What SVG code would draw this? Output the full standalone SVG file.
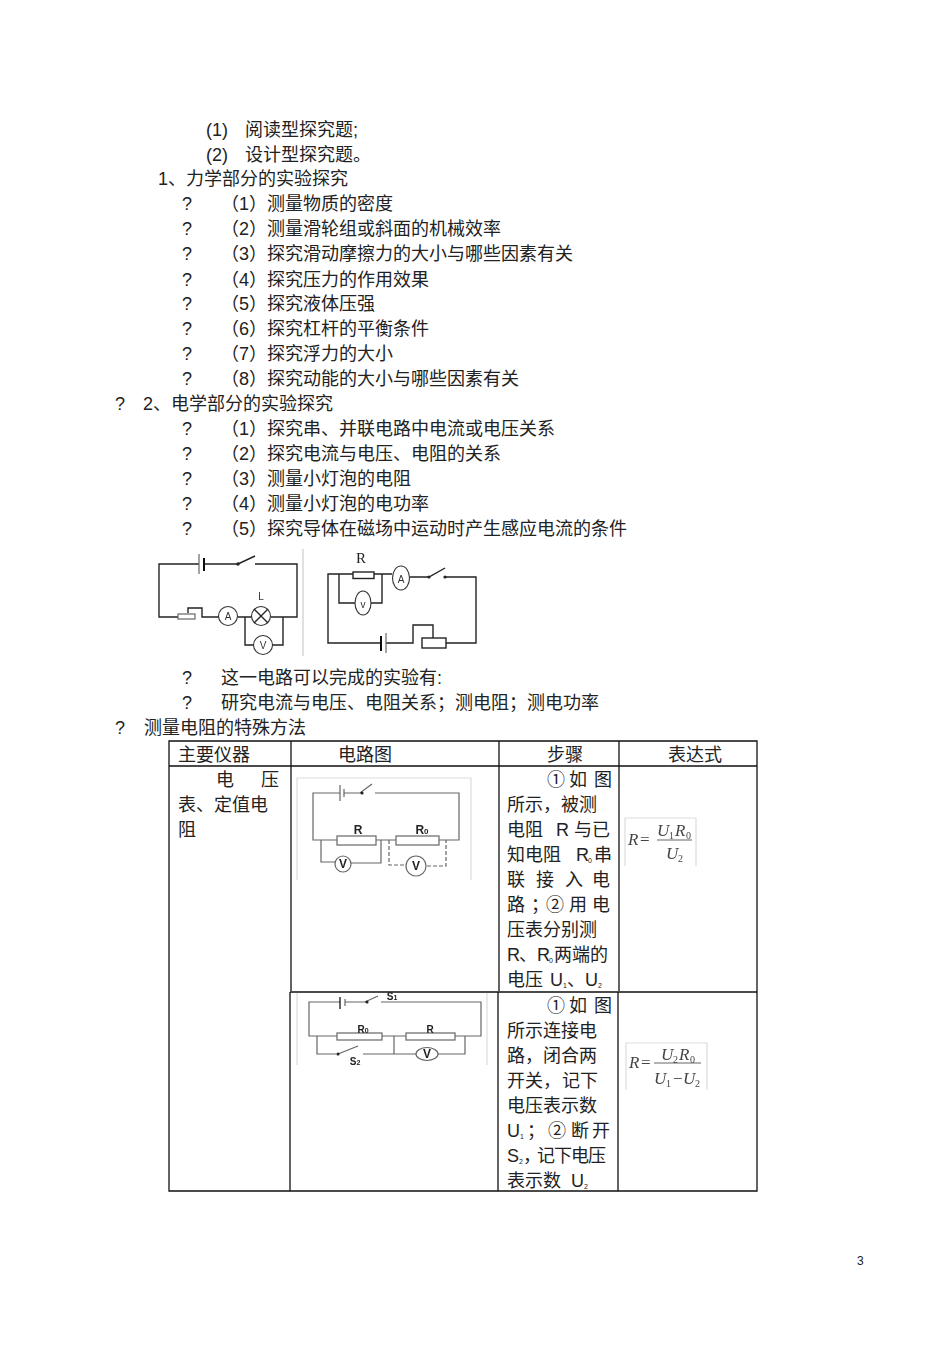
<svg xmlns="http://www.w3.org/2000/svg" width="950" height="1345" viewBox="0 0 950 1345">
<style>
text{font-family:"Liberation Sans","Noto Sans CJK SC",sans-serif;font-size:18px;fill:#222}
.t{fill:none;stroke:#111;stroke-width:1.3}
.w{fill:none;stroke:#222;stroke-width:1.4}
.g{fill:none;stroke:#666;stroke-width:1.2}
.d{stroke-dasharray:4 2}
.b{stroke:#111;stroke-width:2;fill:none}
.f{fill:none;stroke:#ddd;stroke-width:1.2}
.c{fill:#fff;stroke:#333;stroke-width:1.1}
.cg{fill:#fff;stroke:#666;stroke-width:1.2}
.dot{fill:#222}
.s{font-size:7px}
.m{font-family:"Liberation Sans",sans-serif;font-size:10px;text-anchor:middle;fill:#333}
.l{font-family:"Liberation Sans",sans-serif;font-size:12px;font-weight:bold;text-anchor:middle;fill:#222}
.ls{font-family:"Liberation Sans",sans-serif;font-size:10px;font-weight:bold;text-anchor:middle;fill:#222}
.e{font-family:"Liberation Serif",serif;font-style:italic;font-size:17px;fill:#444}
.e2{font-family:"Liberation Serif",serif;font-size:10px;fill:#444}
</style>
<defs><filter id="soft" x="-5%" y="-5%" width="110%" height="110%"><feGaussianBlur stdDeviation="0.35"/></filter></defs>
<rect width="950" height="1345" fill="#fff"/>

<g id="list">
<text x="206" y="136">(1)</text><text x="245" y="136">阅读型探究题;</text>
<text x="206" y="161">(2)</text><text x="245" y="161">设计型探究题。</text>
<text x="158" y="185">1、力学部分的实验探究</text>
<text x="182" y="210">?</text><text x="221" y="210">（1）测量物质的密度</text>
<text x="182" y="235">?</text><text x="221" y="235">（2）测量滑轮组或斜面的机械效率</text>
<text x="182" y="260">?</text><text x="221" y="260">（3）探究滑动摩擦力的大小与哪些因素有关</text>
<text x="182" y="286">?</text><text x="221" y="286">（4）探究压力的作用效果</text>
<text x="182" y="310">?</text><text x="221" y="310">（5）探究液体压强</text>
<text x="182" y="335">?</text><text x="221" y="335">（6）探究杠杆的平衡条件</text>
<text x="182" y="360">?</text><text x="221" y="360">（7）探究浮力的大小</text>
<text x="182" y="385">?</text><text x="221" y="385">（8）探究动能的大小与哪些因素有关</text>
<text x="115" y="410">?</text><text x="143" y="410">2、电学部分的实验探究</text>
<text x="182" y="435">?</text><text x="221" y="435">（1）探究串、并联电路中电流或电压关系</text>
<text x="182" y="460">?</text><text x="221" y="460">（2）探究电流与电压、电阻的关系</text>
<text x="182" y="485">?</text><text x="221" y="485">（3）测量小灯泡的电阻</text>
<text x="182" y="510">?</text><text x="221" y="510">（4）测量小灯泡的电功率</text>
<text x="182" y="535">?</text><text x="221" y="535">（5）探究导体在磁场中运动时产生感应电流的条件</text>
<text x="182" y="684">?</text><text x="221" y="684">这一电路可以完成的实验有:</text>
<text x="182" y="709">?</text><text x="221" y="709">研究电流与电压、电阻关系；测电阻；测电功率</text>
<text x="115" y="734">?</text><text x="144" y="734">测量电阻的特殊方法</text>
</g>

<g id="circuit-1" filter="url(#soft)">
<path class="w" d="M199 564H159V617H178M204 564H238L255 556M255 564H297V617H271M219 617H202V608H188V613M238 617H252M245 617V645H254M272 645H283V617"/>
<path d="M199 554V574" class="g"/><path d="M204 558V571" class="b"/>
<rect class="g" x="178" y="614" width="17" height="5"/>
<circle class="dot" cx="238" cy="564" r="1.7"/>
<circle class="c" cx="228" cy="616" r="9.5"/>
<circle class="c" cx="261" cy="616" r="9.5"/>
<path class="w" d="M254 609L268 623M268 609L254 623"/>
<circle class="c" cx="263" cy="645" r="9.5"/>
<text class="m" x="228" y="620">A</text><text class="m" x="263" y="649">V</text><text class="m" x="261" y="600">L</text>
<path d="M303 549V656" stroke="#ccc" stroke-width="1.2"/>
</g>

<g id="circuit-2" filter="url(#soft)">
<path class="w" d="M353 574H328V643H381M374 574H392M410 577H429L445 568M445 577H476V643H446M433 638V625H413V643H386M339 574V603H355M371 603H382V574"/>
<rect class="w" x="353" y="572" width="21" height="6.500"/>
<ellipse class="c" cx="401" cy="578" rx="8.500" ry="12"/>
<ellipse class="c" cx="363" cy="603" rx="8" ry="12"/>
<path class="b" d="M381 636V651"/><path class="g" d="M386 633V653"/>
<rect class="w" x="422" y="638" width="24" height="10"/>
<circle class="dot" cx="429" cy="577" r="1.600"/><circle class="dot" cx="445" cy="577" r="1.600"/>
<text class="m" x="401" y="583" font-size="11">A</text><text class="m" x="363" y="608">v</text>
<text x="361" y="563" text-anchor="middle" style="font-family:'Liberation Serif',serif;font-size:15px">R</text>
</g>

<g id="table">
<path class="t" d="M169 741H757V1191H169ZM169 766H757M291 741V991M499 741V991M619 741V991M757 741V991M290 992H757M290 992V1191M498 992V1191M618 992V1191"/>
<text x="178" y="761">主要仪器</text><text x="338" y="761">电路图</text><text x="547" y="761">步骤</text><text x="668" y="761">表达式</text>
<text x="216" y="786">电</text><text x="261" y="786">压</text>
<text x="178" y="811">表、定值电</text><text x="178" y="836">阻</text>
</g>

<g id="steps-1">
<text x="547 569 594" y="786">①如图</text>
<text x="507 525 543 561 579" y="811">所示，被测</text>
<text x="507 525 556 574 592" y="836">电阻R与已</text>
<text x="507 525 543 576" y="861">知电阻R</text><text class="s" x="588" y="863">0</text><text x="594" y="861">串</text>
<text x="507 536 565 592" y="886">联接入电</text>
<text x="507 531 546 569 592" y="911">路；②用电</text>
<text x="507 525 543 561 579" y="936">压表分别测</text>
<text x="507" y="961">R</text><text x="519" y="961">、</text><text x="537" y="961">R</text><text class="s" x="549" y="963">0</text><text x="554" y="961">两端的</text>
<text x="507 525 550" y="986">电压U</text><text class="s" x="563" y="988">1</text><text x="567" y="986">、</text><text x="585" y="986">U</text><text class="s" x="598" y="988">2</text>
</g>

<g id="steps-2">
<text x="547 569 594" y="1012">①如图</text>
<text x="507" y="1037">所示连接电</text>
<text x="507 525 543 561 579" y="1062">路，闭合两</text>
<text x="507 525 543 562 580" y="1087">开关，记下</text>
<text x="507" y="1112">电压表示数</text>
<text x="507" y="1137">U</text><text class="s" x="520" y="1139">1</text><text x="527 548 571 592" y="1137">；②断开</text>
<text x="507" y="1162">S</text><text class="s" x="519" y="1164">2</text><text x="523 537 554 571 588" y="1162">，记下电压</text>
<text x="507" y="1187">表示数</text><text x="571" y="1187">U</text><text class="s" x="584" y="1189">2</text>
</g>

<g id="circuit-3" filter="url(#soft)">
<path class="f" d="M297 880V778H471V880"/>
<path class="g" d="M340 793H313V840H337M344 793H360L372 784M375 793H459V840H439M376 840H396M321 840V862H335M351 863H381V840"/>
<path class="g d" d="M389 840V865H405M427 866H446V840"/>
<path class="g" d="M340 785V801M344 789V797"/>
<rect class="g" x="337" y="836" width="39" height="9"/>
<rect class="g" x="396" y="836" width="43" height="9"/>
<circle class="dot" cx="362" cy="793" r="1.600"/>
<circle class="cg" cx="343" cy="864" r="8"/><circle class="cg" cx="416" cy="866" r="10"/>
<text class="l" x="343" y="868">V</text><text class="l" x="416" y="870">V</text>
<text class="l" x="358" y="834">R</text><text class="l" x="422" y="834">R<tspan font-size="8">0</tspan></text>
</g>

<g id="circuit-4" filter="url(#soft)">
<path class="f" d="M297 1065V993M487 993V1065"/>
<path class="g" d="M340 1002H309V1036H337M345 1002H365L378 996M381 1002H481V1036H455M382 1036H406M317 1036V1054H336M338 1054L358 1046M363 1054H417M394 1036V1054M438 1054H465V1036"/>
<path class="b" d="M340 997V1009" style="stroke-width:1.300"/><path class="g" d="M345 999V1006"/>
<rect class="g" x="337" y="1033" width="45" height="7"/>
<rect class="g" x="406" y="1033" width="49" height="7"/>
<circle class="dot" cx="367" cy="1002" r="1.600"/><circle class="dot" cx="338" cy="1054" r="1.600"/>
<ellipse class="cg" cx="427" cy="1054" rx="11" ry="6.500"/>
<text class="l" x="427" y="1058">V</text>
<text class="ls" x="363" y="1033">R<tspan font-size="7">0</tspan></text><text class="ls" x="430" y="1033">R</text>
<text class="ls" x="392" y="1000">S<tspan font-size="7">1</tspan></text><text class="ls" x="355" y="1065">S<tspan font-size="7">2</tspan></text>
</g>

<g id="formula-1" filter="url(#soft)">
<path class="f" d="M625 866V818H696V866"/>
<text class="e" x="628" y="845">R</text><text class="e" x="640" y="845" style="font-style:normal">=</text>
<path class="g" d="M657 840H692"/>
<text class="e" x="657" y="836">U</text><text class="e2" x="669" y="839">1</text><text class="e" x="675" y="836">R</text><text class="e2" x="686" y="839">0</text>
<text class="e" x="666" y="859">U</text><text class="e2" x="678" y="862">2</text>
</g>
<g id="formula-2" filter="url(#soft)">
<path class="f" d="M626 1090V1043H707V1090"/>
<text class="e" x="629" y="1068">R</text><text class="e" x="641" y="1068" style="font-style:normal">=</text>
<path class="g" d="M654 1063H701"/>
<text class="e" x="661" y="1060">U</text><text class="e2" x="673" y="1063">2</text><text class="e" x="679" y="1060">R</text><text class="e2" x="690" y="1063">0</text>
<text class="e" x="654" y="1084">U</text><text class="e2" x="666" y="1087">1</text><text class="e" x="673" y="1084" style="font-style:normal">−</text><text class="e" x="683" y="1084">U</text><text class="e2" x="695" y="1087">2</text>
</g>

<text x="857" y="1265" style="font-size:12px">3</text>
</svg>
